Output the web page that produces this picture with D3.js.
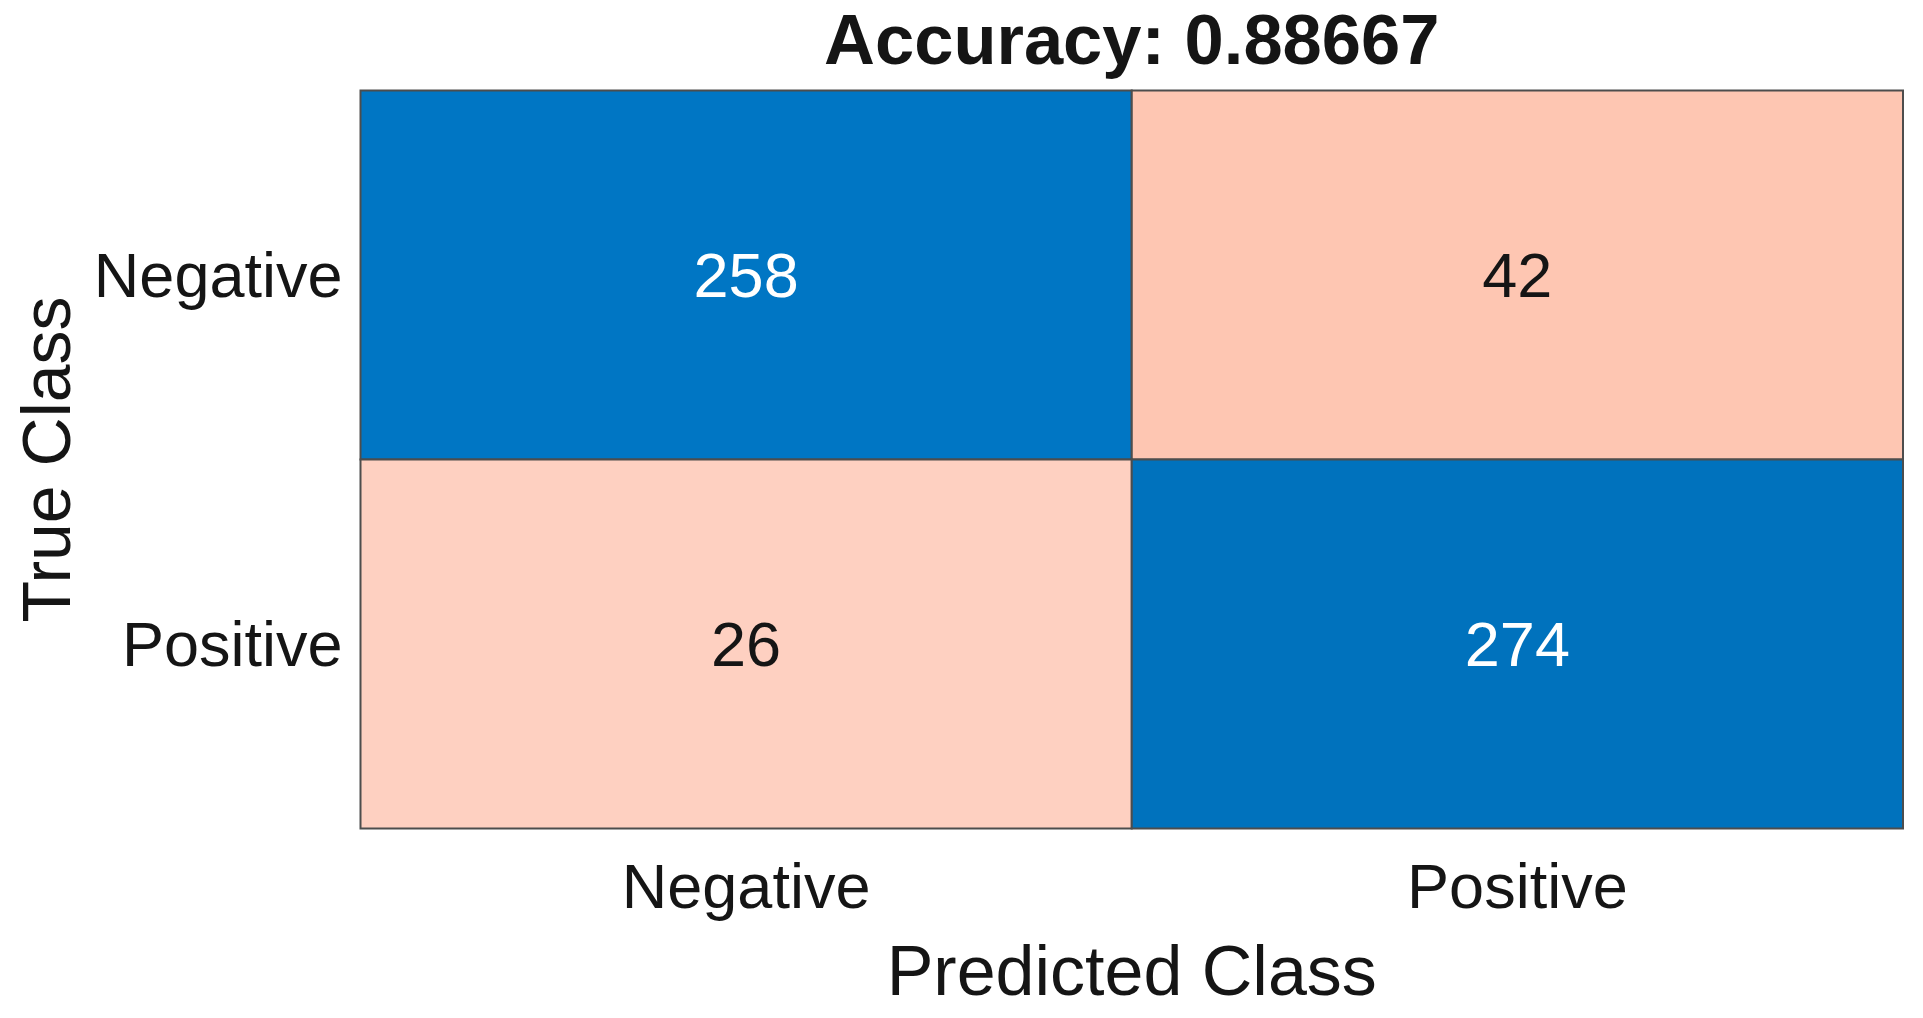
<!DOCTYPE html>
<html>
<head>
<meta charset="utf-8">
<script src="https://cdn.jsdelivr.net/npm/d3@7"></script>
<style>
  html, body { margin: 0; padding: 0; background: #fff; }
  text { font-family: "Liberation Sans", Arial, sans-serif; fill: #151515; }
</style>
</head>
<body>
<svg id="chart" width="1923" height="1018"></svg>
<script>
const trueClasses = ["Negative", "Positive"];
const predictedClasses = ["Negative", "Positive"];
const counts = [
  [258, 42],
  [26, 274]
];
const accuracyLabel = "Accuracy: 0.88667";
const xLabel = "Predicted Class";
const yLabel = "True Class";

const svg = d3.select("#chart");
const m = { left: 360.5, top: 90.5, right: 1903, bottom: 828.5 };

const x = d3.scaleBand().domain(predictedClasses).range([m.left, m.right]);
const y = d3.scaleBand().domain(trueClasses).range([m.top, m.bottom]);

const maxDiag = d3.max(trueClasses.map((c, i) => counts[i][i]));
const maxOff = d3.max(counts.flatMap((r, i) => r.filter((_, j) => j !== i)));

const cells = [];
trueClasses.forEach((t, i) => predictedClasses.forEach((p, j) => {
  cells.push({ t, p, v: counts[i][j], diag: i === j });
}));

const cellFill = d => d.diag ? d3.interpolateRgb("#0072BD", "#0077C6")((maxDiag - d.v) / 20) : d3.interpolateRgb("#FEC6B2", "#FED0C1")((maxOff - d.v) / 16);

svg.append("g").selectAll("rect").data(cells).join("rect")
  .attr("x", d => x(d.p)).attr("y", d => y(d.t))
  .attr("width", x.bandwidth()).attr("height", y.bandwidth())
  .attr("fill", cellFill)
  .attr("stroke", "#4d4d4d").attr("stroke-width", 2);

svg.append("g").selectAll("text").data(cells).join("text")
  .attr("x", d => x(d.p) + x.bandwidth() / 2)
  .attr("y", d => y(d.t) + y.bandwidth() / 2 + 22)
  .attr("text-anchor", "middle")
  .style("font-size", "63px")
  .style("fill", d => d.diag ? "#ffffff" : "#151515")
  .text(d => d.v);

// x axis tick labels
const xAxis = d3.axisBottom(x).tickSize(0).tickPadding(0);
const gx = svg.append("g").attr("transform", `translate(0,${m.bottom})`).call(xAxis);
gx.select(".domain").remove();
gx.selectAll("text").style("font-size", "63px").style("font-family", "Liberation Sans, Arial, sans-serif")
  .attr("fill", "#151515").attr("dy", null).attr("y", 79);

// y axis tick labels
const yAxis = d3.axisLeft(y).tickSize(0).tickPadding(18);
const gy = svg.append("g").attr("transform", `translate(${m.left},0)`).call(yAxis);
gy.select(".domain").remove();
gy.selectAll("text").style("font-size", "63px").style("font-family", "Liberation Sans, Arial, sans-serif")
  .attr("fill", "#151515").attr("dy", null).attr("y", 22);

// labels
svg.append("text").attr("x", (m.left + m.right) / 2).attr("y", 995)
  .attr("text-anchor", "middle").style("font-size", "70px").text(xLabel);

svg.append("text").attr("transform", `translate(70,${(m.top + m.bottom) / 2}) rotate(-90)`)
  .attr("text-anchor", "middle").style("font-size", "68px").text(yLabel);

svg.append("text").attr("x", (m.left + m.right) / 2).attr("y", 64)
  .attr("text-anchor", "middle").style("font-size", "70.5px").style("font-weight", "bold")
  .text(accuracyLabel);
</script>
</body>
</html>
